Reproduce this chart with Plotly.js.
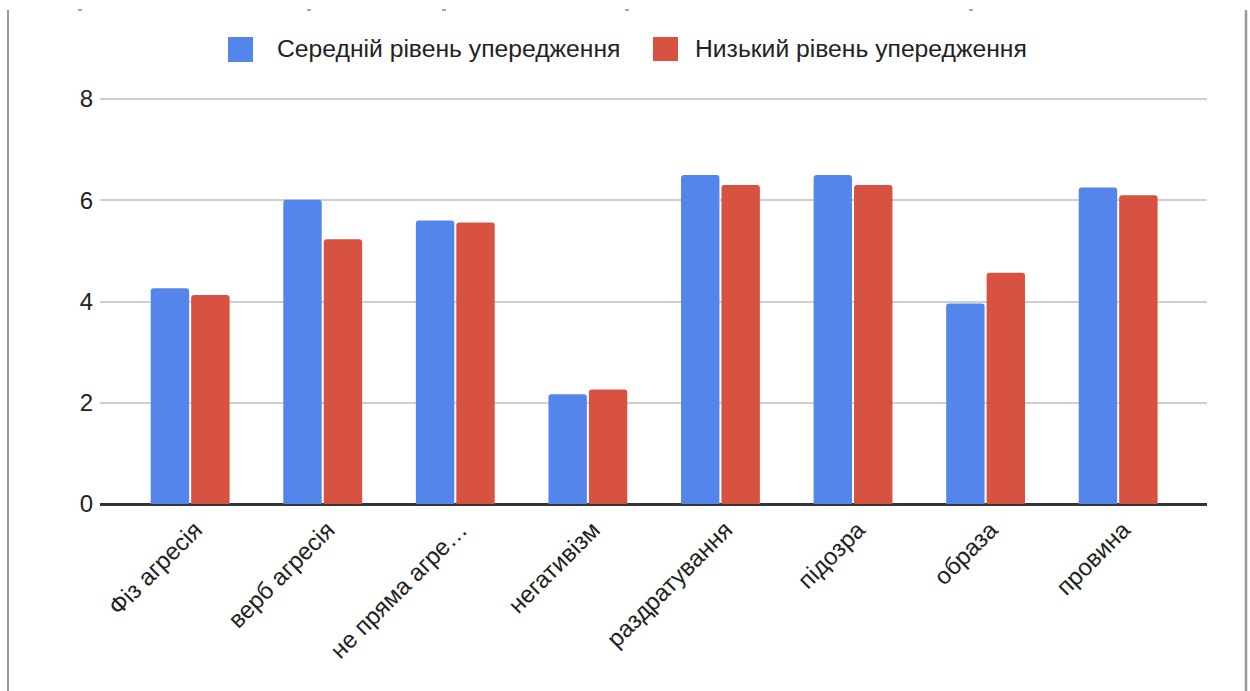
<!DOCTYPE html>
<html>
<head>
<meta charset="utf-8">
<script src="https://cdn.plot.ly/plotly-3.0.1.min.js"></script>
<style>
  html, body { margin: 0; padding: 0; background: #fff; }
  #chart { width: 1250px; height: 691px; }
</style>
</head>
<body>
<div id="chart"></div>
<script>
// ---- data ----
const categories = ["Фіз агресія", "верб агресія", "не пряма агре…", "негативізм", "раздратування", "підозра", "образа", "провина"];
const seriesNames = ["Середній рівень упередження", "Низький рівень упередження"];
const mediumValues = [4.26, 6.01, 5.60, 2.17, 6.50, 6.50, 3.96, 6.25];
const lowValues = [4.13, 5.23, 5.56, 2.26, 6.30, 6.30, 4.57, 6.10];
const yTicks = [0, 2, 4, 6, 8];

// ---- layout helpers (pixel -> paper) ----
const W = 1250, H = 691;
const M = { l: 100, r: 43, t: 97, b: 187 };
const PW = W - M.l - M.r, PH = H - M.t - M.b;
const px = x => (x - M.l) / PW;
const py = y => (H - M.b - y) / PH;

const FONT = '"Liberation Sans", Arial, Helvetica, sans-serif';
const BLUE = '#5385EB', RED = '#D85241';

const traces = [
  { type: 'bar', name: seriesNames[0], x: categories, y: mediumValues, marker: { color: BLUE }, showlegend: false, hoverinfo: 'x+y' },
  { type: 'bar', name: seriesNames[1], x: categories, y: lowValues, marker: { color: RED }, showlegend: false, hoverinfo: 'x+y' }
];

const shapes = [
  // legend swatches
  { type: 'rect', xref: 'paper', yref: 'paper', x0: px(228), x1: px(253), y0: py(62), y1: py(37), fillcolor: BLUE, line: { width: 0 } },
  { type: 'rect', xref: 'paper', yref: 'paper', x0: px(653), x1: px(678), y0: py(61), y1: py(37), fillcolor: RED, line: { width: 0 } },
  // frame lines
  { type: 'line', xref: 'paper', yref: 'paper', x0: px(8), x1: px(8), y0: py(10), y1: py(691), line: { color: '#9a9a9a', width: 2 } },
  { type: 'line', xref: 'paper', yref: 'paper', x0: px(1246), x1: px(1246), y0: py(10), y1: py(691), line: { color: '#9a9a9a', width: 2.5 } }
];
// small marks along the top edge
[80, 309, 444, 627, 971].forEach(x => {
  shapes.push({ type: 'line', xref: 'paper', yref: 'paper', x0: px(x - 2), x1: px(x + 2), y0: py(10), y1: py(10), line: { color: '#888', width: 1.5 } });
});

const annotations = [
  { xref: 'paper', yref: 'paper', x: px(275), y: py(49), xanchor: 'left', yanchor: 'middle', showarrow: false, text: seriesNames[0], font: { family: FONT, size: 24.7, color: '#222' } },
  { xref: 'paper', yref: 'paper', x: px(693), y: py(49), xanchor: 'left', yanchor: 'middle', showarrow: false, text: seriesNames[1], font: { family: FONT, size: 24.7, color: '#222' } }
];

const layout = {
  width: W, height: H,
  margin: M,
  paper_bgcolor: '#fff', plot_bgcolor: '#fff',
  font: { family: FONT, color: '#222' },
  barmode: 'group',
  bargap: 0.39,
  bargroupgap: 0.05,
  barcornerradius: 3,
  showlegend: false,
  xaxis: {
    type: 'category',
    range: [-0.68, 7.67],
    tickangle: -45,
    tickfont: { family: FONT, size: 24, color: '#222' },
    showgrid: false, showline: false, ticks: '', zeroline: false,
    ticklabelstandoff: 6,
    ticklabelshift: 5,
    automargin: false
  },
  yaxis: {
    range: [0, 8.04],
    tickvals: yTicks,
    ticktext: yTicks.map(String),
    tickfont: { family: FONT, size: 24, color: '#222' },
    showgrid: true, gridcolor: '#cfcfcf', gridwidth: 2,
    zeroline: true, zerolinecolor: '#333', zerolinewidth: 3,
    showline: false, ticks: '', ticklabelstandoff: 6,
    automargin: false, fixedrange: true
  },
  shapes: shapes,
  annotations: annotations
};

Plotly.newPlot('chart', traces, layout, { displayModeBar: false, staticPlot: true });
</script>
</body>
</html>
